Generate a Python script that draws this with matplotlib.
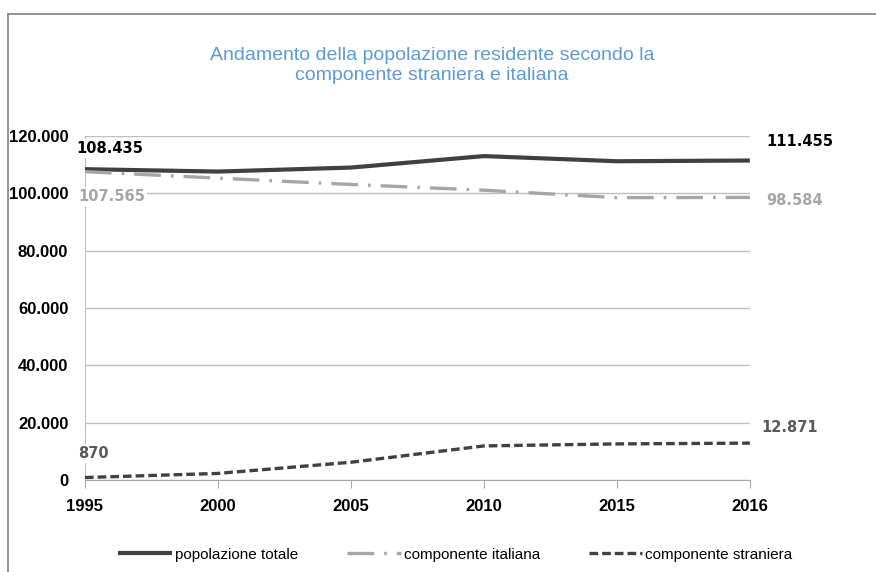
import matplotlib.pyplot as plt
from matplotlib.lines import Line2D

# anni (asse per categorie)
anni = ['1995', '2000', '2005', '2010', '2015', '2016']

# residenti
totale = [108435, 107600, 109000, 113000, 111200, 111455]
italiana = [107565, 105300, 103100, 101100, 98500, 98584]
straniera = [870, 2300, 6200, 11900, 12600, 12871]

y_ticks = [0, 20000, 40000, 60000, 80000, 100000, 120000]


def fmt(v):
    return f'{v:,}'.replace(',', '.')


fig = plt.figure(figsize=(8.76, 5.72), dpi=100)
ax = fig.add_axes([0.097, 0.1608, 0.759, 0.6014])

x = list(range(len(anni)))
ax.plot(x, totale, color='#404040', lw=3.0, solid_capstyle='butt',
        label='popolazione totale', zorder=3)
ax.plot(x, italiana, color='#A6A6A6', lw=2.4, dashes=(8, 3, 0.8, 3),
        label='componente italiana', zorder=3)
ax.plot(x, straniera, color='#404040', lw=2.4, dashes=(2.6, 1.2),
        label='componente straniera', zorder=3)

ax.set_xlim(0, len(anni) - 1)
ax.set_ylim(0, 120000)
ax.set_yticks(y_ticks)
ax.set_yticklabels([fmt(v) for v in y_ticks])
ax.set_xticks(x)
ax.set_xticklabels(anni)
ax.grid(axis='y', color='#BFBFBF', lw=1.0)
ax.set_axisbelow(True)

for s in ['top', 'right']:
    ax.spines[s].set_visible(False)
ax.spines['left'].set_color('#BFBFBF')
ax.spines['bottom'].set_color('#A6A6A6')
ax.tick_params(axis='y', length=0, pad=12)
ax.tick_params(axis='x', length=6, color='#A6A6A6', pad=8)
for lab in ax.get_xticklabels() + ax.get_yticklabels():
    lab.set_fontfamily('Liberation Sans')
    lab.set_fontweight('bold')
    lab.set_fontsize(12)
    lab.set_color('black')

# etichette dei valori agli estremi
box = dict(facecolor='white', edgecolor='none', pad=1.5)
lab_kw = dict(fontsize=10.5, fontweight='bold', family='DejaVu Sans', zorder=5)
ax.annotate(fmt(totale[0]), (0, totale[0]), xytext=(-6, 15), textcoords='offset points',
            ha='left', va='center', color='black', bbox=box, **lab_kw)
ax.annotate(fmt(italiana[0]), (0, italiana[0]), xytext=(-5, -18), textcoords='offset points',
            ha='left', va='center', color='#A6A6A6', bbox=box, **lab_kw)
ax.annotate(fmt(straniera[0]), (0, straniera[0]), xytext=(-5, 17), textcoords='offset points',
            ha='left', va='center', color='#595959', bbox=box, **lab_kw)
ax.annotate(fmt(totale[-1]), (5, totale[-1]), xytext=(12, 14), textcoords='offset points',
            ha='left', va='center', color='black', annotation_clip=False, **lab_kw)
ax.annotate(fmt(italiana[-1]), (5, italiana[-1]), xytext=(12, -2), textcoords='offset points',
            ha='left', va='center', color='#A6A6A6', annotation_clip=False, **lab_kw)
ax.annotate(fmt(straniera[-1]), (5, straniera[-1]), xytext=(8, 11), textcoords='offset points',
            ha='left', va='center', color='#595959', annotation_clip=False, **lab_kw)

fig.text(0.493, 0.885, 'Andamento della popolazione residente secondo la\n'
         'componente straniera e italiana', ha='center', va='center',
         fontsize=14, family='Liberation Sans', color='#5B9BD5', linespacing=1.2)

fig.legend(loc='center', bbox_to_anchor=(0.52, 0.03), ncol=3, frameon=False,
           prop={'family': 'Liberation Sans', 'size': 11}, handlelength=3.5,
           handletextpad=0.2, columnspacing=3.2)

# cornice del grafico
fig.add_artist(Line2D([8 / 876, 1], [1 - 14 / 572, 1 - 14 / 572], color='#808080', lw=1.2))
fig.add_artist(Line2D([8 / 876, 8 / 876], [0, 1 - 14 / 572], color='#808080', lw=1.2))

fig.savefig('out.png', dpi=100)
